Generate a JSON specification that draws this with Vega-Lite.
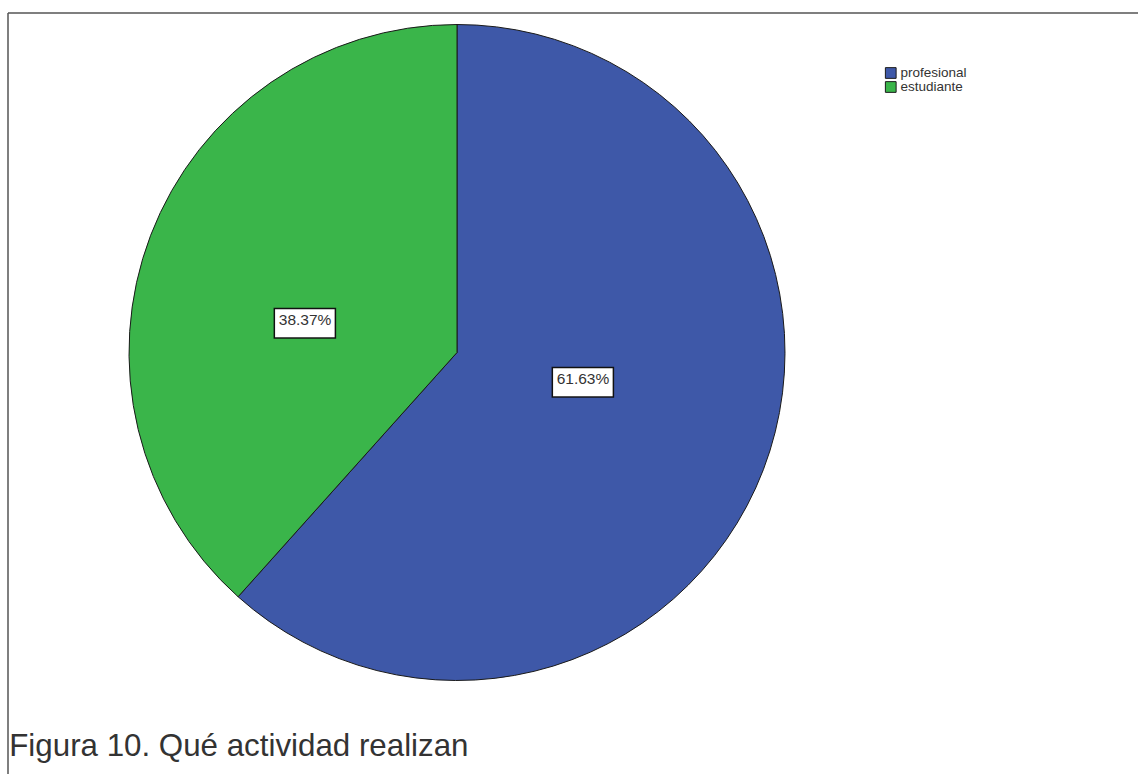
{
  "$schema": "https://vega.github.io/schema/vega-lite/v6.json",
  "autosize": "none",
  "width": 898,
  "height": 679,
  "padding": {"left": 8, "top": 13, "right": 232, "bottom": 82},
  "background": "white",
  "config": {"view": {"stroke": null}},
  "title": {
    "text": "Figura 10. Qué actividad realizan",
    "orient": "bottom",
    "anchor": "start",
    "offset": -44,
    "dx": 2,
    "font": "Liberation Sans",
    "fontSize": 31.3,
    "fontWeight": "normal",
    "color": "#333333"
  },
  "layer": [
    {
      "data": {"values": [{"k": 1}]},
      "mark": {"type": "rule", "color": "#555555", "strokeWidth": 1.5},
      "encoding": {"x": {"value": 0}, "y": {"value": 0}, "y2": {"value": 761}}
    },
    {
      "data": {"values": [{"k": 1}]},
      "mark": {"type": "rule", "color": "#555555", "strokeWidth": 1.5},
      "encoding": {"x": {"value": 0}, "x2": {"value": 1130}, "y": {"value": 0}}
    },
    {
      "data": {"values": [
        {"actividad": "profesional", "porcentaje": 61.63, "orden": 1, "etiqueta": "61.63%"},
        {"actividad": "estudiante", "porcentaje": 38.37, "orden": 2, "etiqueta": "38.37%"}
      ]},
      "encoding": {
        "theta": {"field": "porcentaje", "type": "quantitative", "stack": true},
        "order": {"field": "orden", "type": "quantitative"}
      },
      "layer": [
        {
          "mark": {"type": "arc", "outerRadius": 328, "stroke": "#1a1a1a", "strokeWidth": 1},
          "encoding": {
            "color": {
              "field": "actividad",
              "type": "nominal",
              "sort": ["profesional", "estudiante"],
              "scale": {"domain": ["profesional", "estudiante"], "range": ["#3E58A8", "#3AB54A"]},
              "legend": {
                "title": null,
                "orient": "none",
                "legendX": 876,
                "legendY": 54,
                "symbolType": "square",
                "symbolSize": 115,
                "symbolStrokeColor": "#1a1a1a",
                "symbolStrokeWidth": 1,
                "symbolOpacity": 1,
                "rowPadding": 0,
                "clipHeight": 12,
                "labelFont": "Liberation Sans",
                "labelFontSize": 13.5,
                "labelColor": "#333333",
                "labelOffset": 3
              }
            }
          }
        },
        {
          "mark": {"type": "text", "text": "▬", "font": "DejaVu Sans", "fontSize": 80, "fill": "white", "stroke": "#111111", "strokeWidth": 1.5, "baseline": "middle", "align": "center", "thetaOffset": -0.157, "dx": -13, "dy": -3},
          "encoding": {"radius": {"value": 142}}
        },
        {
          "mark": {"type": "text", "font": "Liberation Sans", "fontSize": 15.5, "color": "#333333", "baseline": "middle", "thetaOffset": -0.157, "dx": -13, "dy": -3},
          "encoding": {"radius": {"value": 142}, "text": {"field": "etiqueta"}}
        }
      ]
    }
  ]
}
